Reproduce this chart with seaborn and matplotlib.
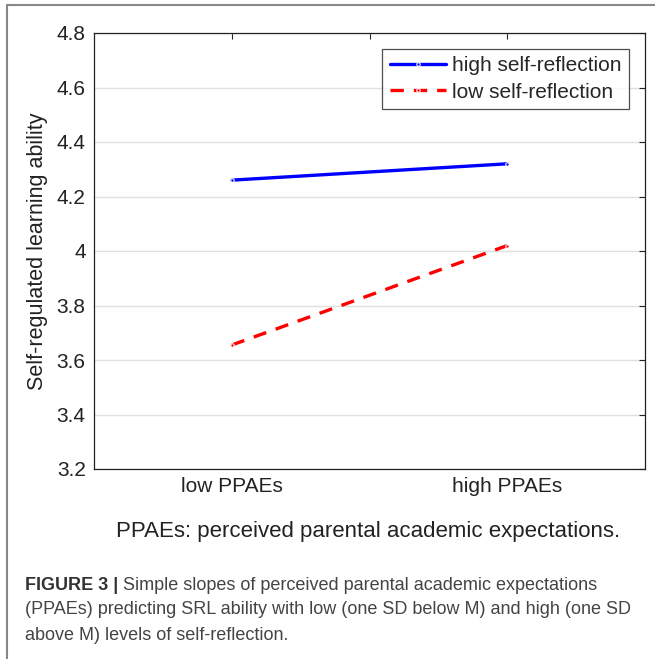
import numpy as np
import pandas as pd
import seaborn as sns
import matplotlib.pyplot as plt
from matplotlib.lines import Line2D

# values
x_pos = [1, 2]
high_reflection = [4.26, 4.32]
low_reflection = [3.655, 4.02]
series_names = ["high self-reflection", "low self-reflection"]
xtick_pos = [1, 1.5, 2]
xtick_labels = ["low PPAEs", "", "high PPAEs"]
yticks = [3.2, 3.4, 3.6, 3.8, 4.0, 4.2, 4.4, 4.6, 4.8]
ytick_labels = ["3.2", "3.4", "3.6", "3.8", "4", "4.2", "4.4", "4.6", "4.8"]

sns.set_style("white")
plt.rcParams['font.family'] = ['Liberation Sans', 'DejaVu Sans']

W, H = 655, 659
fig = plt.figure(figsize=(W / 100, H / 100), dpi=100)
ax = fig.add_axes([94 / W, 1 - 469 / H, 551 / W, 436 / H])

sns.lineplot(x=x_pos, y=high_reflection, ax=ax, color='#0000ff', lw=2.4,
             marker='.', markersize=5, label=series_names[0])
sns.lineplot(x=x_pos, y=low_reflection, ax=ax, color='#ff0000', lw=2.4,
             marker='.', markersize=5, label=series_names[1])
ax.lines[1].set_dashes([4, 3])

ax.set_xlim(0.5, 2.5)
ax.set_ylim(3.2, 4.8)
ax.set_xticks(xtick_pos)
ax.set_xticklabels(xtick_labels, fontsize=15, color='#222222')
ax.set_yticks(yticks)
ax.set_yticklabels(ytick_labels, fontsize=15, color='#222222')
ax.tick_params(direction='in', length=4, width=0.8, top=True, right=True,
               colors='#222222', pad=6)
ax.yaxis.grid(True, color='#e0e0e0', lw=1)
ax.xaxis.grid(False)
for s in ax.spines.values():
    s.set_color('#222222')
    s.set_linewidth(0.9)

ax.set_ylabel("Self-regulated learning ability", fontsize=15.5, color='#222222', labelpad=6)
ax.set_xlabel("")

leg = ax.legend(loc='upper right', bbox_to_anchor=(535 / 551, 1 - 16 / 436), fontsize=15,
                frameon=True, fancybox=False, handlelength=2.7, borderpad=0.35,
                labelspacing=0.35, handletextpad=0.3, borderaxespad=0)
leg.get_frame().set_edgecolor('#222222')
leg.get_frame().set_linewidth(0.9)

fig.text(368 / W, 1 - 532 / H, "PPAEs: perceived parental academic expectations.",
         ha='center', va='center', fontsize=16, color='#222222')

# caption
cap_color = '#444444'
cap_size = 13
bold = fig.text(25 / W, 1 - 585 / H, "FIGURE 3 |", fontsize=cap_size, fontweight='bold',
                color='#333333', va='center', ha='left')
fig.canvas.draw()
bb = bold.get_window_extent()
fig.text((bb.x1 + 5) / W, 1 - 585 / H, "Simple slopes of perceived parental academic expectations",
         fontsize=cap_size, color=cap_color, va='center', ha='left')
fig.text(25 / W, 1 - 610 / H,
         "(PPAEs) predicting SRL ability with low (one SD below M) and high (one SD",
         fontsize=cap_size, color=cap_color, va='center', ha='left')
fig.text(25 / W, 1 - 635 / H, "above M) levels of self-reflection.",
         fontsize=cap_size, color=cap_color, va='center', ha='left')

# page frame (top and left edges)
fig.add_artist(Line2D([7 / W, 1], [1 - 5 / H, 1 - 5 / H], color='#888888', lw=1.5))
fig.add_artist(Line2D([7 / W, 7 / W], [0, 1 - 5 / H], color='#888888', lw=1.5))

fig.savefig("out.png", dpi=100)
